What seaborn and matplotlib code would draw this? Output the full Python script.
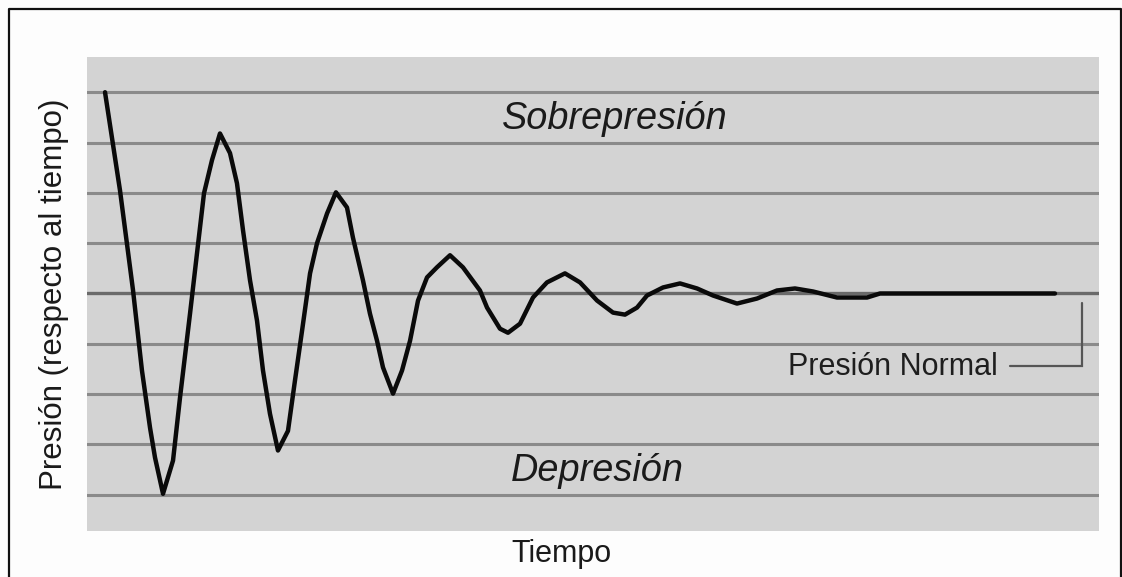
import matplotlib
matplotlib.use("Agg")
import matplotlib.pyplot as plt
from matplotlib.lines import Line2D
import seaborn as sns
import pandas as pd

# Pressure trace over time (arbitrary units), relative to normal pressure
tiempo = [1.78, 3.26, 4.55, 5.43, 6.23, 6.72, 7.51, 8.50, 9.19, 10.18,
          10.87, 11.56, 12.35, 13.14, 14.13, 14.82, 15.42, 16.11, 16.80, 17.39,
          18.08, 18.87, 19.86, 20.55, 21.25, 22.04, 22.73, 23.72, 24.60, 25.69,
          26.28, 27.27, 27.96, 28.66, 29.25, 30.24, 31.13, 31.92, 32.71, 33.60,
          34.58, 35.87, 37.15, 38.83, 39.53, 40.81, 41.60, 42.79, 44.07, 45.45,
          47.23, 48.72, 50.40, 51.98, 53.16, 54.35, 55.34, 56.92, 58.60, 60.28,
          61.86, 64.23, 66.21, 68.18, 69.96, 71.74, 74.11, 77.08, 78.36, 95.65]
presion = [4.00, 2.05, 0.06, -1.53, -2.67, -3.26, -3.98, -3.32, -2.07, -0.40,
           0.80, 1.99, 2.65, 3.18, 2.79, 2.19, 1.25, 0.26, -0.54, -1.53,
           -2.39, -3.12, -2.73, -1.73, -0.74, 0.40, 1.00, 1.59, 2.01, 1.71,
           1.11, 0.26, -0.40, -0.94, -1.47, -1.99, -1.53, -0.94, -0.14, 0.32,
           0.52, 0.76, 0.52, 0.06, -0.28, -0.70, -0.78, -0.60, -0.08, 0.22,
           0.40, 0.22, -0.14, -0.38, -0.42, -0.28, -0.04, 0.12, 0.20, 0.10,
           -0.04, -0.20, -0.10, 0.06, 0.10, 0.04, -0.08, -0.08, 0.00, 0.00]

niveles = [-4, -3, -2, -1, 0, 1, 2, 3, 4]
nivel_normal = 0

titulo_y = "Presión (respecto al tiempo)"
titulo_x = "Tiempo"
zona_alta = "Sobrepresión"
zona_baja = "Depresión"
etiqueta_normal = "Presión Normal"

sns.set_theme(style="white")
plt.rcParams["font.family"] = ["Liberation Sans", "DejaVu Sans"]

W, H = 1122, 577
fig = plt.figure(figsize=(W / 100, H / 100), dpi=100, facecolor="#fdfdfd")
ax = fig.add_axes([87 / W, 1 - 531 / H, (1099 - 87) / W, (531 - 57) / H])
ax.set_facecolor("#d3d3d3")

# horizontal reference levels
for lv in niveles:
    if lv == nivel_normal:
        ax.axhline(lv, color="#6a6a6a", lw=2.4, zorder=1)
    else:
        ax.axhline(lv, color="#8a8a8a", lw=2.2, zorder=1)

df = pd.DataFrame({"t": tiempo, "p": presion})
sns.lineplot(data=df, x="t", y="p", ax=ax, color="#0a0a0a", lw=3.2,
             estimator=None, sort=False, zorder=3)

ax.set_xlim(0, 100)
ax.set_ylim(-4.72, 4.70)
ax.set_xticks([])
ax.set_yticks([])
ax.set_xlabel("")
ax.set_ylabel("")
for s in ax.spines.values():
    s.set_visible(False)

# zone labels
ax.text(52.2, 3.47, zona_alta, fontsize=27.3, style="italic", color="#1a1a1a",
        ha="center", va="center")
ax.text(50.4, -3.53, zona_baja, fontsize=27.3, style="italic", color="#1a1a1a",
        ha="center", va="center")

# "Presión Normal" label with leader line back to the baseline
ax.text(90.0, -1.47, etiqueta_normal, fontsize=22, color="#1e1e1e",
        ha="right", va="center")
ax.plot([91.2, 98.3, 98.3], [-1.45, -1.45, -0.18], color="#555555", lw=1.6,
        solid_joinstyle="miter", zorder=2)

# axis titles
fig.text(54 / W, 1 - 294 / H, titulo_y, rotation=90, fontsize=22.5,
         color="#1a1a1a", ha="center", va="center")
fig.text(561 / W, 1 - 562 / H, titulo_x, fontsize=22, color="#1a1a1a",
         ha="center", va="baseline")

# outer frame (open at the bottom)
fx0, fx1, fy1 = 8.5 / W, 1120.5 / W, 1 - 9 / H
fig.add_artist(Line2D([fx0, fx0, fx1, fx1], [0, fy1, fy1, 0],
                      transform=fig.transFigure, color="#111111", lw=1.6))

fig.savefig("out.png", dpi=100, facecolor=fig.get_facecolor())
